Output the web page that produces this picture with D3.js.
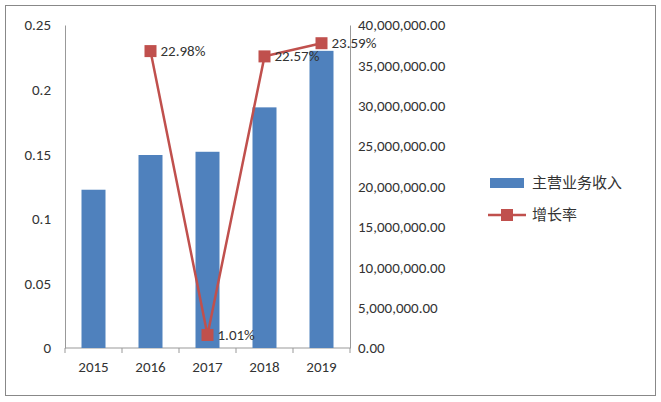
<!DOCTYPE html>
<html><head><meta charset="utf-8">
<script src="https://cdn.jsdelivr.net/npm/d3@7"></script>
<style>body{margin:0;background:#fff}text{font-family:Calibri,Carlito,"Liberation Sans","Noto Sans CJK SC",sans-serif}</style>
</head><body><svg id="c" width="661" height="402"></svg>
<script>
const years=["2015","2016","2017","2018","2019"];
const revenue=[19600000,23900000,24300000,29800000,36800000];
const growth=[null,0.2298,0.0101,0.2257,0.2359];
const growthLabels=["","22.98%","1.01%","22.57%","23.59%"];
const leftTicks=[0,0.05,0.1,0.15,0.2,0.25];
const rightTicks=[0,5e6,10e6,15e6,20e6,25e6,30e6,35e6,40e6];
const svg=d3.select("#c");
svg.append("rect").attr("x",5.5).attr("y",5.5).attr("width",650).attr("height",390).attr("fill","#fff").attr("stroke","#888");
const L=65,R=350,T=25,B=348;
const x=d3.scaleBand().domain(years).range([L,R]);
const yl=d3.scaleLinear().domain([0,0.25]).range([B,T]);
const yr=d3.scaleLinear().domain([0,40e6]).range([B,T]);
const ga=svg.append("g").attr("transform",`translate(${L},0)`).call(d3.axisLeft(yl).tickValues(leftTicks).tickFormat(d=>d3.format("")(d)).tickSize(0).tickPadding(14));
const gr=svg.append("g").attr("transform",`translate(${R},0)`).call(d3.axisRight(yr).tickValues(rightTicks).tickFormat(d=>d3.format(",.2f")(d)).tickSize(0).tickPadding(8));
const gb=svg.append("g").attr("transform",`translate(0,${B})`).call(d3.axisBottom(x).tickSize(5).tickPadding(8));
[ga,gr,gb].forEach(g=>{g.selectAll("text").attr("font-size",15).attr("fill","#333");g.select(".domain").attr("stroke","#999");g.selectAll("line").attr("stroke","#999");});
gb.select(".domain").attr("d",`M${L},0H${R}`);
// extra bottom tick at right edge
gb.append("line").attr("x1",L).attr("x2",L).attr("y2",5).attr("stroke","#999");
years.forEach(y=>gb.append("line").attr("x1",x(y)+x.bandwidth()).attr("x2",x(y)+x.bandwidth()).attr("y2",5).attr("stroke","#999"));
gb.selectAll(".tick line").remove();
const bw=24;
svg.selectAll(".bar").data(years).join("rect").attr("x",d=>x(d)+x.bandwidth()/2-bw/2).attr("width",bw)
 .attr("y",(d,i)=>yr(revenue[i])).attr("height",(d,i)=>B-yr(revenue[i])).attr("fill","#4f81bd");
const pts=years.map((d,i)=>[d,growth[i],growthLabels[i]]).filter(p=>p[1]!=null);
svg.append("path").datum(pts).attr("d",d3.line().x(p=>x(p[0])+x.bandwidth()/2).y(p=>yl(p[1]))).attr("fill","none").attr("stroke","#c0504d").attr("stroke-width",2.5);
svg.selectAll(".m").data(pts).join("rect").attr("x",p=>x(p[0])+x.bandwidth()/2-6).attr("y",p=>yl(p[1])-6).attr("width",12).attr("height",12).attr("fill","#c0504d");
svg.selectAll(".lb").data(pts).join("text").attr("x",p=>x(p[0])+x.bandwidth()/2+10).attr("y",p=>yl(p[1])+5).attr("font-size",15).attr("fill","#333").text(p=>p[2]);
// legend
svg.append("rect").attr("x",490).attr("y",178).attr("width",34).attr("height",10).attr("fill","#4f81bd");
svg.append("text").attr("x",532).attr("y",188).attr("font-size",15).attr("fill","#333").text("主营业务收入");
svg.append("line").attr("x1",488).attr("x2",526).attr("y1",215).attr("y2",215).attr("stroke","#c0504d").attr("stroke-width",2.5);
svg.append("rect").attr("x",501).attr("y",209).attr("width",12).attr("height",12).attr("fill","#c0504d");
svg.append("text").attr("x",532).attr("y",220).attr("font-size",15).attr("fill","#333").text("增长率");
</script></body></html>
